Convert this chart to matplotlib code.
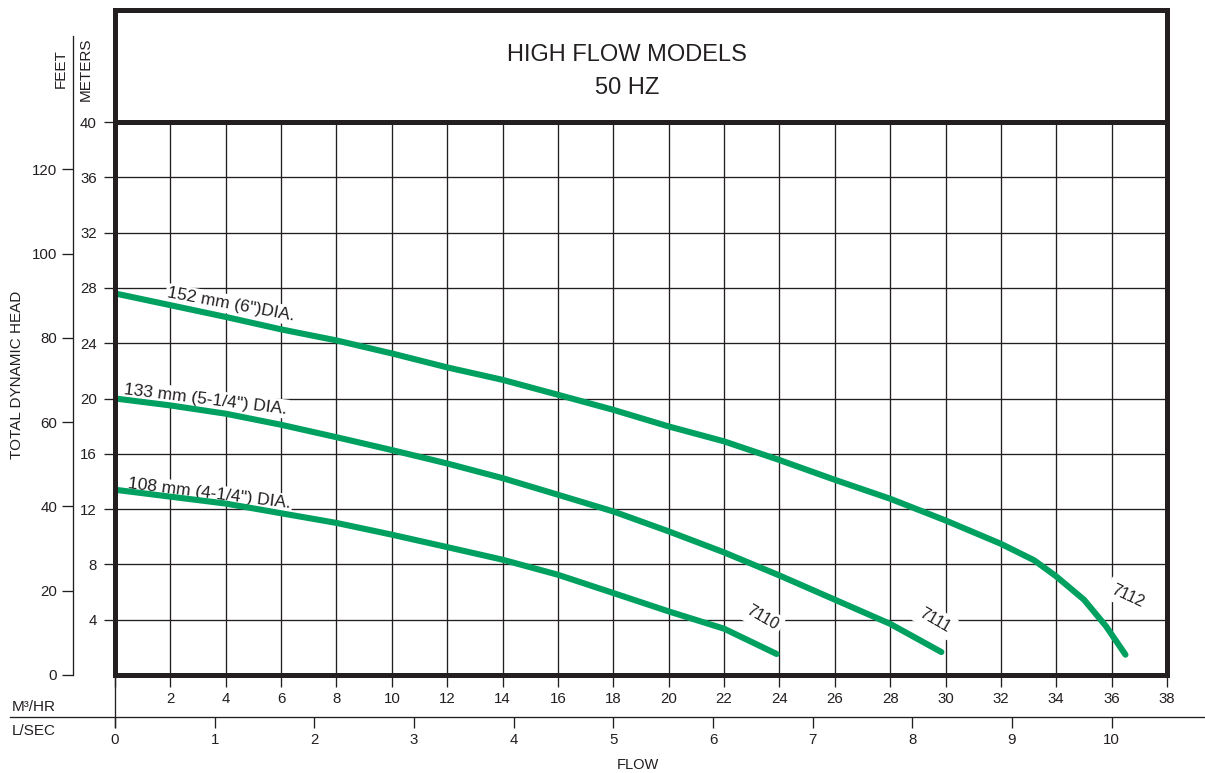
import matplotlib
matplotlib.use('Agg')
import matplotlib.pyplot as plt
from matplotlib import font_manager
from matplotlib.lines import Line2D

# ---------------- data ----------------
flow_7110 = [0, 2, 4, 6, 8, 10, 12, 14, 16, 18, 20, 22, 23.9]
head_7110 = [13.4, 12.9, 12.4, 11.7, 11.0, 10.15, 9.25, 8.34, 7.25, 5.93, 4.6, 3.35, 1.52]

flow_7111 = [0, 2, 4, 6, 8, 10, 12, 14, 16, 18, 20, 22, 24, 26, 28, 29.85]
head_7111 = [20.0, 19.5, 18.9, 18.1, 17.2, 16.27, 15.3, 14.24, 13.04, 11.83, 10.39, 8.87,
             7.2, 5.45, 3.7, 1.66]

flow_7112 = [0, 2, 4, 6, 8, 10, 12, 14, 16, 18, 20, 22, 24, 26, 28, 30, 32, 33.2, 34,
             35, 35.8, 36.5]
head_7112 = [27.6, 26.75, 25.9, 25.0, 24.2, 23.26, 22.25, 21.35, 20.27, 19.18, 17.98, 16.9,
             15.55, 14.12, 12.75, 11.18, 9.49, 8.3, 7.13, 5.45, 3.52, 1.47]

diameter_labels = ['152 mm (6")DIA.', '133 mm (5-1/4") DIA.', '108 mm (4-1/4") DIA.']
model_labels = ['7110', '7111', '7112']

m3hr_ticks = list(range(0, 39, 2))
meter_ticks = list(range(4, 41, 4))
feet_ticks = list(range(0, 121, 20))
lsec_ticks = list(range(0, 11))

title_lines = ['HIGH FLOW MODELS', '50 HZ']

# ---------------- style ----------------
names = {f.name for f in font_manager.fontManager.ttflist}
FONT = 'Liberation Sans Narrow' if 'Liberation Sans Narrow' in names else 'Liberation Sans'
plt.rcParams['font.family'] = [FONT, 'DejaVu Sans']

INK = '#231f20'
GREEN = '#00a160'
W, H = 1205, 773
TICK_FS = 10.8


def fx(px):
    return px / W


def fy(py):
    return 1 - py / H


fig = plt.figure(figsize=(W / 100, H / 100), dpi=100)

L, R, B, T = 115, 1167, 675, 122
ax = fig.add_axes([fx(L), fy(B), (R - L) / W, (B - T) / H])
ax.set_xlim(0, 38)
ax.set_ylim(0, 40)

for s in ax.spines.values():
    s.set_linewidth(3.6)
    s.set_color(INK)
    s.set_zorder(6)

ax.set_xticks(m3hr_ticks)
ax.set_xticklabels([''] + [str(v) for v in m3hr_ticks[1:]])
ax.set_yticks(meter_ticks)
ax.set_yticklabels([str(v) for v in meter_ticks])
ax.grid(True, color=INK, lw=0.95)
ax.set_axisbelow(True)
ax.tick_params(axis='x', direction='out', length=8.6, width=0.95, color=INK,
               labelsize=TICK_FS, labelcolor=INK, pad=3.5)
ax.tick_params(axis='y', direction='out', length=8, width=0.95, color=INK,
               labelsize=TICK_FS, labelcolor=INK, pad=5)

# curves
for fl, hd in [(flow_7110, head_7110), (flow_7111, head_7111), (flow_7112, head_7112)]:
    ax.plot(fl, hd, color=GREEN, lw=4.4, solid_capstyle='round',
            solid_joinstyle='round', zorder=4)

# diameter labels
bb = dict(facecolor='white', edgecolor='none', pad=1.5)
ax.text(1.88, 27.33, diameter_labels[0], rotation=-10.5, rotation_mode='anchor',
        ha='left', va='baseline', fontsize=12.5, color=INK, bbox=bb, zorder=3)
ax.text(0.29, 20.35, diameter_labels[1], rotation=-7, rotation_mode='anchor',
        ha='left', va='baseline', fontsize=12.5, color=INK, bbox=bb, zorder=3)
ax.text(0.43, 13.5, diameter_labels[2], rotation=-7, rotation_mode='anchor',
        ha='left', va='baseline', fontsize=12.5, color=INK, bbox=bb, zorder=3)

# model labels
bb2 = dict(facecolor='white', edgecolor='none', pad=3)
for (xx, yy, rot), lab in zip([(23.37, 4.12, -30), (29.62, 3.98, -30), (36.56, 5.71, -25)],
                              model_labels):
    ax.text(xx, yy, lab, rotation=rot, rotation_mode='anchor', ha='center', va='center',
            fontsize=11.5, color=INK, bbox=bb2, zorder=3)

# feet axis
sec = ax.secondary_yaxis(-(L - 73) / (R - L),
                         functions=(lambda m: m * 3.28084, lambda f: f / 3.28084))
sec.set_yticks(feet_ticks)
sec.set_yticklabels([str(v) for v in feet_ticks])
sec.spines['left'].set_visible(False)
sec.tick_params(direction='out', length=8, width=0.95, color=INK, labelsize=TICK_FS,
                labelcolor=INK, pad=3.5)
fig.add_artist(Line2D([fx(73), fx(73)], [fy(36), fy(675)], color=INK, lw=0.95))

# L/SEC axis
secx = ax.secondary_xaxis(-(717 - B) / (B - T),
                          functions=(lambda q: q / 3.6, lambda l: l * 3.6))
secx.set_xticks(lsec_ticks)
secx.set_xticklabels([str(v) for v in lsec_ticks])
secx.spines['bottom'].set_visible(False)
secx.tick_params(direction='out', length=8, width=0.95, color=INK, labelsize=TICK_FS,
                 labelcolor=INK, pad=3.5)
fig.add_artist(Line2D([fx(10), fx(1205)], [fy(717), fy(717)], color=INK, lw=0.95))
fig.add_artist(Line2D([fx(115), fx(115)], [fy(675), fy(727)], color=INK, lw=0.95))

# title box
tax = fig.add_axes([fx(L), fy(T), (R - L) / W, (T - 10) / H])
tax.set_xlim(L, R)
tax.set_xticks([])
tax.set_yticks([])
for s in tax.spines.values():
    s.set_linewidth(3.6)
    s.set_color(INK)
tax.text(627, (T - 55) / (T - 10), title_lines[0], ha='center', va='center',
         fontsize=17, color=INK, transform=tax.get_xaxis_transform())
tax.text(627, (T - 88) / (T - 10), title_lines[1], ha='center', va='center',
         fontsize=17, color=INK, transform=tax.get_xaxis_transform())

# axis labels
fig.text(fx(61), fy(69), 'FEET', rotation=90, ha='center', va='center', fontsize=11,
         color=INK)
fig.text(fx(86), fy(69), 'METERS', rotation=90, ha='center', va='center', fontsize=11,
         color=INK)
fig.text(fx(17), fy(375), 'TOTAL DYNAMIC HEAD', rotation=90, ha='center', va='center',
         fontsize=11, color=INK)
fig.text(fx(12), fy(707), 'M\u00b3/HR', ha='left', va='center', fontsize=11, color=INK)
fig.text(fx(12), fy(731), 'L/SEC', ha='left', va='center', fontsize=11, color=INK)
fig.text(fx(638), fy(758), 'FLOW', ha='center', va='top', fontsize=10.5, color=INK)

fig.savefig('out.png', dpi=100)
